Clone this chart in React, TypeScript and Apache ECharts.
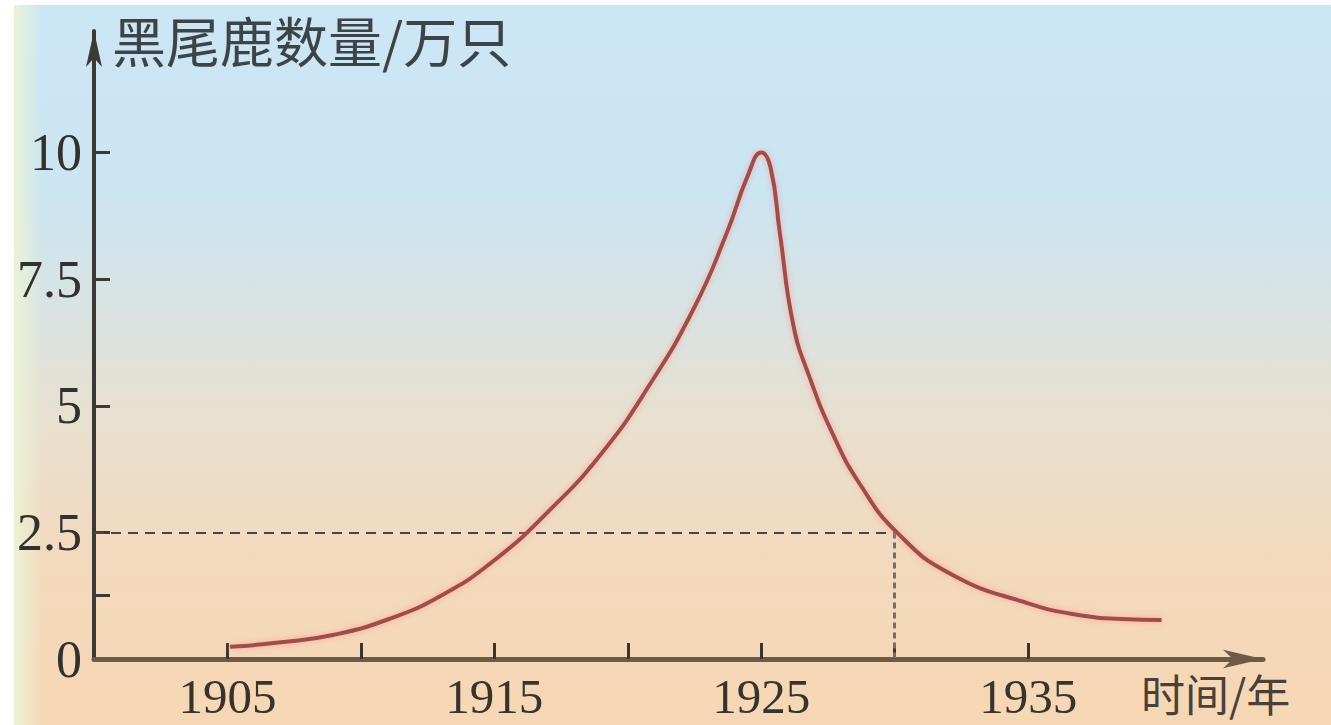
import React, { useEffect, useRef } from "react";
import * as echarts from "echarts";

const years = [1905.1, 1907, 1909, 1911, 1913, 1915, 1917, 1919, 1920.8, 1922.5, 1923.7, 1924.5, 1925.0, 1925.35, 1925.7, 1926.2, 1926.8, 1927.7, 1928.7, 1930.1, 1932.1, 1935.0, 1937.0, 1938.5, 1940.0];
const deerCounts = [0.24, 0.33, 0.48, 0.78, 1.25, 1.95, 2.9, 4.05, 5.4, 6.95, 8.4, 9.55, 10.0, 9.7, 8.4, 6.6, 5.58, 4.42, 3.45, 2.49, 1.68, 1.1, 0.86, 0.79, 0.77];

const yLabelValues = [0, 2.5, 5, 7.5, 10];
const yTickValues = [1.25, 2.5, 5, 7.5, 10];
const xLabelValues = [1905, 1915, 1925, 1935];
const xTickValues = [1905, 1910, 1915, 1920, 1925, 1930, 1935];

const refYear = 1930;
const refValue = 2.5;
const xMin = 1900;
const xMax = 1943.8;
const yMin = 0;
const yMax = 12.4;

const yName = "黑尾鹿数量/万只";
const xName = "时间/年";

export default function App() {
  const ref = useRef<HTMLDivElement>(null);
  useEffect(() => {
    document.body.style.margin = "0";
    const chart = echarts.init(ref.current!, null, { renderer: "svg" });
    const serif = "'Liberation Serif', 'DejaVu Serif', serif";
    const cjk = "'Noto Sans CJK SC', sans-serif";
    chart.setOption({
      animation: false,
      backgroundColor: "#ffffff",
      graphic: [
        {
          type: "rect",
          z: -10,
          silent: true,
          shape: { x: 14, y: 5, width: 1317, height: 720 },
          style: {
            fill: new echarts.graphic.LinearGradient(0, 0, 0, 1, [
              { offset: 0, color: "#cbe6f5" },
              { offset: 0.25, color: "#cbe5f3" },
              { offset: 0.42, color: "#d9e3e3" },
              { offset: 0.58, color: "#e9e0cf" },
              { offset: 0.78, color: "#f3d9bd" },
              { offset: 1, color: "#f6d7b5" },
            ]),
          },
        },
        {
          type: "rect",
          z: -9,
          silent: true,
          shape: { x: 14, y: 5, width: 28, height: 720 },
          style: {
            fill: new echarts.graphic.LinearGradient(0, 0, 1, 0, [
              { offset: 0, color: "rgba(236,244,214,0.95)" },
              { offset: 1, color: "rgba(236,244,214,0)" },
            ]),
          },
        },
      ],
      grid: { left: 94, right: 68, top: 31, bottom: 66, containLabel: false },
      xAxis: {
        type: "value",
        min: xMin,
        max: xMax,
        name: xName,
        nameLocation: "end",
        nameGap: -122,
        nameTextStyle: {
          fontFamily: cjk,
          fontSize: 44,
          lineHeight: 44,
          color: "#4a4038",
          align: "left",
          verticalAlign: "top",
          padding: [12, 0, 0, 0],
        },
        axisLine: {
          show: true,
          symbol: ["none", "arrow"],
          symbolSize: [14, 40],
          lineStyle: { color: "#6e5a45", width: 5 },
        },
        axisTick: {
          show: true,
          inside: true,
          length: 16,
          customValues: xTickValues,
          lineStyle: { color: "#3c3430", width: 3 },
        },
        axisLabel: {
          show: true,
          customValues: xLabelValues,
          margin: 17,
          lineHeight: 40,
          fontFamily: serif,
          fontSize: 49,
          color: "#3a332c",
          formatter: (v: number) => String(v),
        },
        splitLine: { show: false },
      },
      yAxis: {
        type: "value",
        min: yMin,
        max: yMax,
        name: yName,
        nameLocation: "end",
        nameGap: -8,
        nameTextStyle: {
          fontFamily: cjk,
          fontSize: 54,
          lineHeight: 50,
          color: "#3d4448",
          align: "left",
          verticalAlign: "middle",
          padding: [0, 0, 0, 18],
        },
        axisLine: {
          show: true,
          symbol: ["none", "arrow"],
          symbolSize: [12, 36],
          lineStyle: { color: "#3c3a37", width: 4 },
        },
        axisTick: {
          show: true,
          inside: true,
          length: 16,
          customValues: yTickValues,
          lineStyle: { color: "#3c3a37", width: 3 },
        },
        axisLabel: {
          show: true,
          customValues: yLabelValues,
          margin: 12,
          fontFamily: serif,
          fontSize: 52,
          color: "#33312e",
          formatter: (v: number) => String(v),
        },
        splitLine: { show: false },
      },
      series: [
        {
          type: "line",
          data: years.map((y, i) => [y, deerCounts[i]]),
          smooth: 0.5,
          showSymbol: false,
          symbol: "none",
          lineStyle: {
            color: "#9e4d48",
            width: 4,
            shadowColor: "rgba(255,140,140,0.7)",
            shadowBlur: 6,
          },
          z: 5,
          markLine: {
            silent: true,
            symbol: "none",
            label: { show: false },
            data: [
              [
                { coord: [xMin, refValue], lineStyle: { color: "#4a4540", width: 2, type: [10, 7] } },
                { coord: [refYear, refValue] },
              ],
              [
                { coord: [refYear, refValue], lineStyle: { color: "#707070", width: 3, type: [6, 4] } },
                { coord: [refYear, 0] },
              ],
            ],
          },
        },
      ],
    });
    return () => chart.dispose();
  }, []);
  return <div ref={ref} style={{ width: 1331, height: 725 }} />;
}
